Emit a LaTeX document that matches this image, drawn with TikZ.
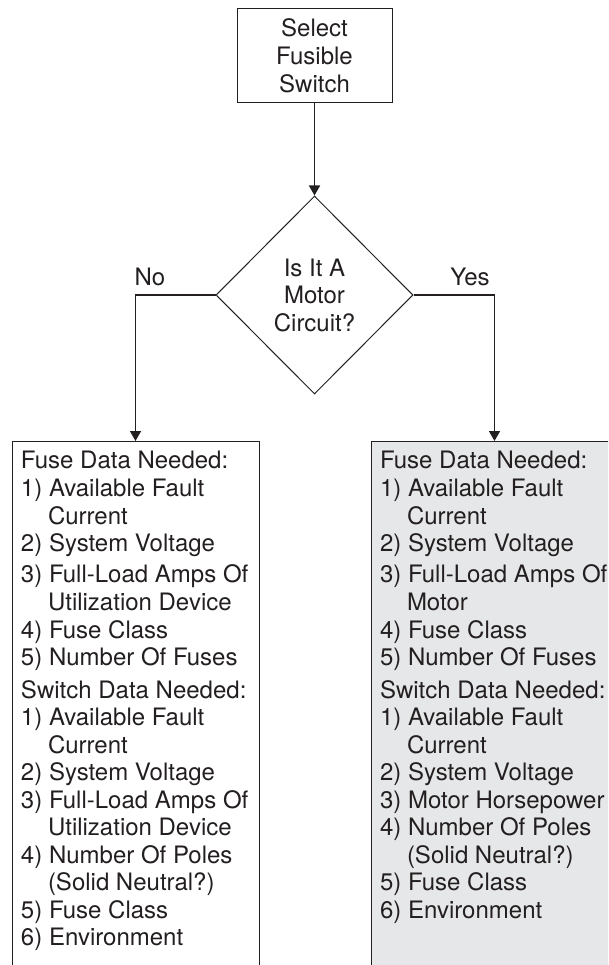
\documentclass[tikz,border=0pt]{standalone}
\usepackage{fontspec}
\setmainfont{TeX Gyre Heros}
\usetikzlibrary{shapes.geometric, arrows.meta, positioning}
\definecolor{boxgray}{HTML}{E6E7E8}
\definecolor{inkblack}{HTML}{231F20}

\newcommand{\ind}{\hspace*{27pt}}

\begin{document}
\begin{tikzpicture}[
    x=1pt, y=-1pt,
    every node/.style={font=\fontsize{24}{27.5}\selectfont, text=inkblack},
    block/.style={rectangle, draw=inkblack, line width=1pt, minimum width=155pt, minimum height=94pt, align=center, inner sep=0pt, font=\fontsize{24}{28}\selectfont},
    decision/.style={diamond, draw=inkblack, line width=1pt, minimum width=197pt, minimum height=198pt, align=center, inner sep=0pt},
    databox/.style={rectangle, draw=inkblack, line width=1pt, anchor=north, minimum width=247pt, inner xsep=0pt, inner ysep=10pt},
    arrow/.style={-{Triangle[length=10pt, width=11pt]}, line width=1.6pt, draw=inkblack}
]
\useasboundingbox (0,0) rectangle (608,965);
\clip (0,0) rectangle (608,965);

% Start
\node[block] (select) at (314.5,56) {Select\\Fusible\\Switch};

% Decision
\node[decision] (motorq) at (314.5,295) {Is It A\\Motor\\Circuit?};

% Branch labels
\node[anchor=base] (nolbl) at (150,285.5) {No};
\node[anchor=base] (yeslbl) at (470,285.5) {Yes};

% Not a motor circuit
\node[databox] (general) at (135.5,441) {\begin{minipage}[t][530pt][t]{240pt}\raggedright\leftskip=5.5pt
Fuse Data Needed:\\
1) Available Fault\\
\ind Current\\
2) System Voltage\\[4pt]
3) Full-Load Amps Of\\
\ind Utilization Device\\
4) Fuse Class\\
5) Number Of Fuses\\[5pt]
Switch Data Needed:\\
1) Available Fault\\
\ind Current\\
2) System Voltage\\
3) Full-Load Amps Of\\
\ind Utilization Device\\
4) Number Of Poles\\
\ind (Solid Neutral?)\\
5) Fuse Class\\
6) Environment
\end{minipage}};

% Motor circuit
\node[databox, fill=boxgray] (motorbox) at (494.5,441) {\begin{minipage}[t][530pt][t]{240pt}\raggedright\leftskip=5.5pt
Fuse Data Needed:\\
1) Available Fault\\
\ind Current\\
2) System Voltage\\[4pt]
3) Full-Load Amps Of\\
\ind Motor\\
4) Fuse Class\\
5) Number Of Fuses\\[5pt]
Switch Data Needed:\\
1) Available Fault\\
\ind Current\\
2) System Voltage\\
3) Motor Horsepower\\
4) Number Of Poles\\
\ind (Solid Neutral?)\\
5) Fuse Class\\
6) Environment
\end{minipage}};

% Arrows
\draw[arrow] (select) -- (motorq);
\draw[arrow] (motorq.west) -| (general.north);
\draw[arrow] (motorq.east) -| (motorbox.north);

\end{tikzpicture}
\end{document}
